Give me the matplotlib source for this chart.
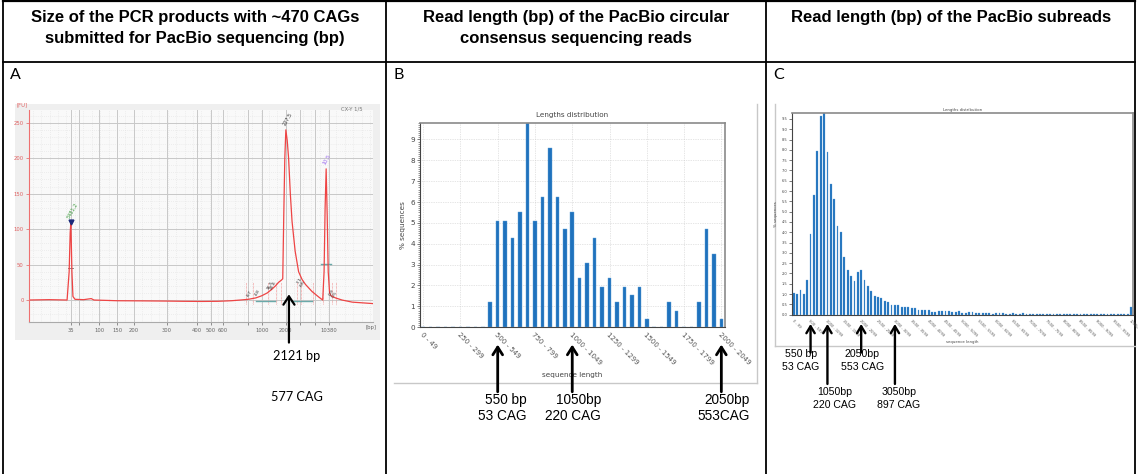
import matplotlib

matplotlib.use("Agg")
import matplotlib.pyplot as plt
from matplotlib.ticker import MultipleLocator
import numpy as np

W, H = 1138, 474

# ---- header row -------------------------------------------------------------
HEADERS = [
    "Size of the PCR products with ~470 CAGs\nsubmitted for PacBio sequencing (bp)",
    "Read length (bp) of the PacBio circular\nconsensus sequencing reads",
    "Read length (bp) of the PacBio subreads",
]
PANEL_LETTERS = ["A", "B", "C"]

# ---- panel A: electropherogram (migration units, FU) -------------------------
A_TICK_POS = [12.2, 20.5, 25.7, 30.6, 40.2, 48.9, 53.0, 56.5, 67.8, 74.7, 87.2]
A_TICK_LABELS = ["35", "100", "150", "200", "300", "400", "500", "600", "1000", "2000", "10380"]
A_EXTRA_GRID = [14.8, 63.6, 78.7, 83.3]
A_TRACE_U = [0, 6, 11.2, 11.8, 12.1, 12.3, 12.6, 12.9, 13.5, 16, 18.2, 19.0, 25.8, 33,
             40.4, 45, 50.2, 55, 58.9, 61.5, 63.8, 66, 67.7, 69.3, 70.6, 71.7, 72.6,
             73.4, 73.8, 74.1, 74.4, 74.7, 75.1, 75.5, 76.0, 76.5, 77.4, 78.4, 79.4,
             80.4, 82.3, 84.3, 85.4, 85.8, 86.1, 86.4, 86.7, 87.0, 87.4, 87.8, 89.1,
             91.0, 94.0, 97.0, 99.9]
A_TRACE_FU = [0, 0.5, 0, 40, 95, 110, 40, 5, 1, 0.5, 2, 0, -1, -1.2,
              -1.5, -1.8, -2, -1.8, -1, 0, 1, 3, 6, 10, 15, 20, 25,
              28, 30, 120, 200, 240, 225, 200, 150, 111, 69, 40, 29,
              22, 12, 4, 0, 40, 130, 185, 120, 40, 10, 6, 3,
              0, -3, -4, -5]
A_PEAK_LABELS = [(12.3, 112, "5481.2", "#3c9a3c"), (74.9, 243, "227.5", "#333333"),
                 (86.6, 188, "10.5", "#9966ee")]
A_SMALL_LABELS = [(64.2, 4, "8.7"), (66.6, 5, "4.8"), (69.8, 13, "16.5"), (70.8, 14, "20.6"),
                  (78.6, 22, "7.1"), (79.6, 17, "6.6"), (88.0, 5, "0.9"), (88.9, 2, "0.5")]
A_REGION_LINES = [63.0, 65.3, 69.5, 71.8, 73.4, 77.9, 79.1, 82.5, 85.6, 88.2, 89.3]
A_TARGET_U = 75.6
A_TARGET_TEXT = ["2121 bp", "577 CAG"]

# ---- panel B: CCS read lengths (50 bp bins) ---------------------------------
B_PCT = [0, 0, 0, 0, 0, 0, 0, 0, 0, 1.2,
         5.1, 5.1, 4.3, 5.5, 9.8, 5.1, 6.25, 8.6, 6.25, 4.7,
         5.5, 2.35, 3.1, 4.3, 1.95, 2.35, 1.2, 1.95, 1.55, 1.95,
         0.4, 0, 0, 1.2, 0.8, 0, 0, 1.2, 4.7, 3.5,
         0.4]
B_TICK_BINS = [0, 5, 10, 15, 20, 25, 30, 35, 40]
B_TICK_LABELS = ["0 - 49", "250 - 299", "500 - 549", "750 - 799", "1000 - 1049",
                 "1250 - 1299", "1500 - 1549", "1750 - 1799", "2000 - 2049"]
B_ARROW_BINS = [10, 20, 40]
B_ARROW_TEXT = [("550 bp", "53 CAG"), ("1050bp", "220 CAG"), ("2050bp", "553CAG")]

# ---- panel C: subread lengths (100 bp bins, last = overflow) ---------------
C_PCT = [1.05, 0.99, 1.22, 1.02, 1.70, 3.94, 5.83, 7.95, 9.66, 9.77,
         7.89, 6.35, 5.60, 4.32, 3.99, 2.78, 2.19, 1.90, 1.62, 2.05,
         2.19, 1.70, 1.40, 1.17, 0.91, 0.86, 0.83, 0.67, 0.60, 0.47,
         0.47, 0.47, 0.36, 0.37, 0.39, 0.34, 0.34, 0.23, 0.24, 0.24,
         0.24, 0.15, 0.11, 0.18, 0.16, 0.16, 0.16, 0.11, 0.12, 0.20,
         0.10, 0.08, 0.13, 0.12, 0.10, 0.09, 0.08, 0.06, 0.06, 0.05,
         0.08, 0.08, 0.07, 0.05, 0.04, 0.07, 0.03, 0.04, 0.06, 0.02,
         0.03, 0.05, 0.02, 0.03, 0.04, 0.02, 0.02, 0.03, 0.01, 0.02,
         0.02, 0.01, 0.02, 0.01, 0.02, 0.01, 0.02, 0.01, 0.01, 0.02,
         0.01, 0.01, 0.02, 0.01, 0.01, 0.02, 0.01, 0.01, 0.01, 0.01,
         0.38]
C_TICK_BINS = list(range(0, 101, 5))
C_TICK_LABELS = ["0 - 99", "500 - 599", "1000 - 1099", "1500 - 1599", "2000 - 2099",
                 "2500 - 2599", "3000 - 3099", "3500 - 3599", "4000 - 4099", "4500 - 4599",
                 "5000 - 5099", "5500 - 5599", "6000 - 6099", "6500 - 6599", "7000 - 7099",
                 "7500 - 7599", "8000 - 8099", "8500 - 8599", "9000 - 9099", "9500 - 9599",
                 "10000"]
C_ARROW_BINS = [5, 10, 20, 30]
C_ARROW_TEXT = [("550 bp", "53 CAG"), ("1050bp", "220 CAG"),
                ("2050bp", "553 CAG"), ("3050bp", "897 CAG")]

BAR_BLUE = "#1f72bd"
SANS = "Liberation Sans"
CAL = "Lato"


def rect(x0, y0, x1, y1):
    return [x0 / W, 1 - y1 / H, (x1 - x0) / W, (y1 - y0) / H]


fig = plt.figure(figsize=(W / 100, H / 100), dpi=100)

# overlay in pixel coordinates for the table, headings and captions
ov = fig.add_axes([0, 0, 1, 1], zorder=0)
ov.set_xlim(0, W)
ov.set_ylim(H, 0)
ov.axis("off")
for x in (3.5, 386.5, 766, 1135.5):
    ov.plot([x, x], [0, H], color="black", lw=1.3)
ov.plot([3.5, 1135.5], [0.8, 0.8], color="black", lw=1.6)
ov.plot([3.5, 1135.5], [61.5, 61.5], color="black", lw=1.3)

col_centers = [195, 576, 951]
for cx, head in zip(col_centers, HEADERS):
    ov.text(cx, 10, head, ha="center", va="top", fontsize=12.0, fontweight="bold",
            family=SANS, linespacing=1.5)
for lx, letter in zip((10, 394, 773), PANEL_LETTERS):
    ov.text(lx, 75, letter, ha="left", va="center", fontsize=11.5, family=CAL)

# frames of the screenshot panels
ov.plot([757, 757], [104, 382.5], color="#c8c8c8", lw=1.0)
ov.plot([394, 757], [382.5, 382.5], color="#c8c8c8", lw=1.0)
ov.plot([775, 775], [104, 346], color="#c8c8c8", lw=1.0)
ov.plot([775, 1135], [346, 346], color="#c8c8c8", lw=1.0)

# ---- panel A ----------------------------------------------------------------
bgA = fig.add_axes(rect(15, 104, 380, 340))
bgA.set_facecolor("#efefef")
bgA.set_xticks([])
bgA.set_yticks([])
for s in bgA.spines.values():
    s.set_visible(False)

axA = fig.add_axes(rect(28.5, 110, 373, 322))
axA.set_facecolor("#f9f9f9")
axA.set_xlim(0, 100)
axA.set_ylim(-31, 268)
for u in np.arange(1.2, 100, 2.45):
    axA.axvline(u, color="#e2e2e2", lw=0.5, ls=(0, (1, 2)), zorder=0)
for fu in range(-20, 268, 10):
    axA.axhline(fu, color="#e2e2e2", lw=0.5, ls=(0, (1, 2)), zorder=0)
for u in A_TICK_POS + A_EXTRA_GRID:
    axA.axvline(u, color="#c8c8c8", lw=0.7, zorder=0.5)
for fu in range(0, 251, 50):
    axA.axhline(fu, color="#c8c8c8", lw=0.7, zorder=0.5)
for u in A_REGION_LINES:
    axA.plot([u, u], [-6, 25], color="#f08080", lw=0.5, ls=(0, (1, 1)), zorder=1)
axA.plot([66.0, 71.6], [-1, -1], color="#6aa9a9", lw=1.0, zorder=1)
axA.plot([76.2, 82.2], [-1, -1], color="#6aa9a9", lw=1.0, zorder=1)
axA.plot([85.0, 87.8], [51, 51], color="#6aa9a9", lw=1.0, zorder=1)
axA.plot([11.6, 13.0], [45, 45], color="#888888", lw=0.7, zorder=1)
axA.plot(A_TRACE_U, A_TRACE_FU, color="#ee4444", lw=0.9, zorder=2)
axA.plot([12.3], [110], marker="v", color="#1c2a7a", ms=3.5, zorder=3)
for u, fu, txt, col in A_PEAK_LABELS:
    axA.text(u, fu + 2, txt, fontsize=3.6, color=col, rotation=60, ha="left", va="bottom",
             rotation_mode="anchor")
for u, fu, txt in A_SMALL_LABELS:
    axA.text(u, fu, txt, fontsize=3.2, color="#333333", rotation=60, ha="left", va="bottom",
             rotation_mode="anchor")
axA.set_xticks(A_TICK_POS + A_EXTRA_GRID)
axA.set_xticklabels(A_TICK_LABELS + [""] * len(A_EXTRA_GRID))
axA.set_yticks(range(0, 251, 50))
axA.tick_params(axis="x", labelsize=3.8, colors="#666666", length=2, width=0.5, pad=2)
axA.tick_params(axis="y", labelsize=3.8, colors="#e06060", length=2, width=0.5, pad=1.5)
axA.spines["left"].set_color("#ee7070")
axA.spines["bottom"].set_color("#aaaaaa")
axA.spines["top"].set_visible(False)
axA.spines["right"].set_visible(False)
axA.text(99.5, -35, "[bp]", fontsize=3.8, color="#666666", ha="center", va="top")
axA.text(-2, 272, "[FU]", fontsize=3.8, color="#e06060", ha="center", va="bottom")
axA.text(97, 266, "CX-Y 1/5", fontsize=3.8, color="#777777", ha="right", va="bottom")
axA.annotate("", xy=(A_TARGET_U, 8), xytext=(A_TARGET_U, -60), annotation_clip=False,
             arrowprops=dict(arrowstyle="->,head_length=0.6,head_width=0.4", lw=1.6,
                             color="black", shrinkA=0, shrinkB=0), zorder=5)
ov.text(297, 356, A_TARGET_TEXT[0], ha="center", va="center", fontsize=9.2, family=CAL)
ov.text(297, 397, A_TARGET_TEXT[1], ha="center", va="center", fontsize=9.2, family=CAL)


def style_fastqc(ax, ylab_size, xlab_size, ytick_fmt):
    ax.set_facecolor("white")
    for side in ("top", "right"):
        ax.spines[side].set_color("#8a8a8a")
        ax.spines[side].set_linewidth(1.2)
    for side in ("left", "bottom"):
        ax.spines[side].set_color("#444444")
        ax.spines[side].set_linewidth(0.8)
    ax.grid(True, color="#cccccc", lw=0.5, ls=(0, (1, 1.5)))
    ax.set_axisbelow(True)
    ax.tick_params(axis="y", labelsize=ylab_size, colors="#444444", length=2, width=0.5, pad=1.5)
    ax.tick_params(axis="x", labelsize=xlab_size, colors="#555555", length=0, pad=3)
    ax.yaxis.set_major_formatter(ytick_fmt)
    for lab in ax.get_xticklabels():
        lab.set_rotation(-45)
        lab.set_ha("left")
        lab.set_va("top")
        lab.set_rotation_mode("anchor")


# ---- panel B ----------------------------------------------------------------
axB = fig.add_axes(rect(419.8, 122.8, 724.7, 327.2))
axB.bar(range(len(B_PCT)), B_PCT, width=0.48, color=BAR_BLUE, edgecolor="#5fa0d8", lw=0.3)
axB.set_xlim(-0.45, 40.45)
axB.set_ylim(0, 9.8)
axB.set_yticks(range(0, 10))
axB.yaxis.set_minor_locator(MultipleLocator(0.1))
axB.tick_params(axis="y", which="minor", length=1.2, width=0.4, color="#444444")
axB.set_xticks(B_TICK_BINS)
axB.set_xticklabels(B_TICK_LABELS)
style_fastqc(axB, 5.2, 5.0, "{x:.0f}")
axB.set_title("Lengths distribution", fontsize=5.2, color="#444444", pad=4)
axB.set_xlabel("sequence length", fontsize=5.2, color="#444444", labelpad=-4)
axB.xaxis.set_label_coords(0.5, -0.22)
axB.set_ylabel("% sequences", fontsize=5.2, color="#444444", labelpad=3)
for b in B_ARROW_BINS:
    axB.annotate("", xy=(b, -0.085), xytext=(b, -0.316), xycoords=axB.get_xaxis_transform(),
                 textcoords=axB.get_xaxis_transform(), annotation_clip=False,
                 arrowprops=dict(arrowstyle="->,head_length=0.55,head_width=0.35", lw=2.0,
                                 color="black", shrinkA=0, shrinkB=0), zorder=5)
for (xr, yr), (l1, l2) in zip([(527, 400), (601, 400), (750, 400)], B_ARROW_TEXT):
    ov.text(xr, yr, l1, ha="right", va="center", fontsize=9.8, family=SANS)
    ov.text(xr, yr + 15.5, l2, ha="right", va="center", fontsize=9.8, family=SANS)

# ---- panel C ----------------------------------------------------------------
axC = fig.add_axes(rect(792, 113.4, 1132.5, 314.7))
axC.bar(range(len(C_PCT)), C_PCT, width=0.55, color=BAR_BLUE, edgecolor="#5fa0d8", lw=0.2)
axC.set_xlim(-0.5, 100.4)
axC.set_ylim(0, 9.77)
axC.set_yticks(np.arange(0, 9.6, 0.5))
axC.set_xticks(C_TICK_BINS)
axC.set_xticklabels(C_TICK_LABELS)
style_fastqc(axC, 2.6, 2.6, "{x:.1f}")
axC.grid(False)
axC.set_title("Lengths distribution", fontsize=2.8, color="#444444", pad=2)
axC.set_xlabel("sequence length", fontsize=2.8, color="#444444")
axC.xaxis.set_label_coords(0.5, -0.125)
axC.set_ylabel("% sequences", fontsize=2.8, color="#444444", labelpad=2)
c_tails = [-0.188, -0.344, -0.188, -0.344]
for b, tail in zip(C_ARROW_BINS, c_tails):
    axC.annotate("", xy=(b, -0.046), xytext=(b, tail), xycoords=axC.get_xaxis_transform(),
                 textcoords=axC.get_xaxis_transform(), annotation_clip=False,
                 arrowprops=dict(arrowstyle="->,head_length=0.5,head_width=0.3", lw=1.7,
                                 color="black", shrinkA=0, shrinkB=0), zorder=5)
c_text_pos = [(801, 354), (835, 392), (862.5, 354), (899, 392)]
for (xc, yc), (l1, l2) in zip(c_text_pos, C_ARROW_TEXT):
    ov.text(xc, yc, l1, ha="center", va="center", fontsize=7.6, family=SANS)
    ov.text(xc, yc + 13.5, l2, ha="center", va="center", fontsize=7.6, family=SANS)

fig.savefig("out.png", dpi=100)
